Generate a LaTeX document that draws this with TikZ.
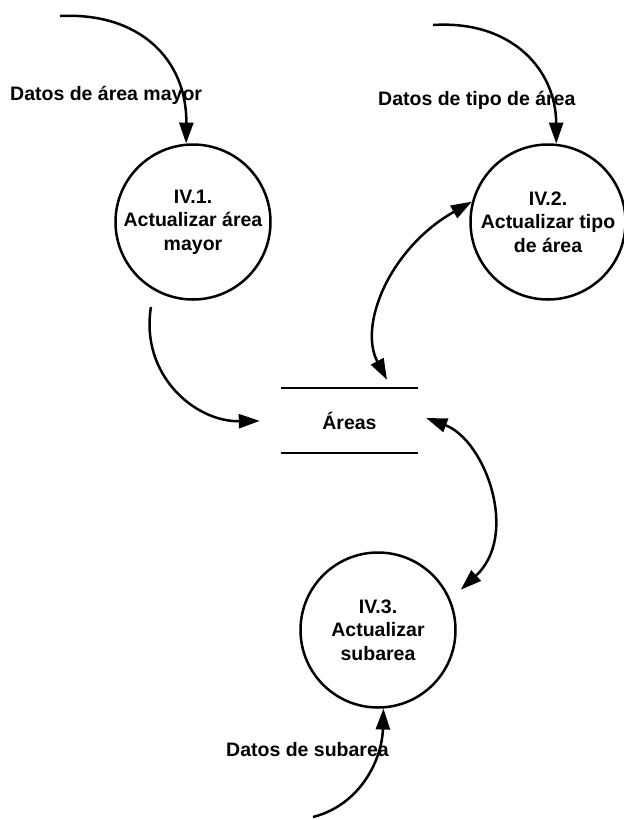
\documentclass[tikz,border=0pt]{standalone}
\usepackage{fontspec}
\setmainfont{Liberation Sans}
\usetikzlibrary{arrows.meta}
\begin{document}
\begin{tikzpicture}[x=1pt,y=-1pt,
  every node/.style={font=\fontsize{19.5}{23.5}\selectfont\bfseries},
  process/.style={circle,draw,line width=2.5pt,minimum size=155pt,inner sep=0pt,align=center},
  store/.style={rectangle,minimum width=137pt,minimum height=65pt,inner sep=0pt},
  flow/.style={line width=2.5pt,-{Triangle[length=21pt,width=14pt]}},
  biflow/.style={line width=2.5pt,{Triangle[length=21pt,width=14pt]}-{Triangle[length=21pt,width=14pt]}},
  label/.style={inner sep=0pt,anchor=west}]
\useasboundingbox (0,0) rectangle (624,820);

% processes
\node[process] (p1) at (193,222) {IV.1.\\Actualizar área\\mayor};
\node[process] (p2) at (548,222) {IV.2.\\Actualizar tipo\\de área};
\node[process] (p3) at (378,630) {IV.3.\\Actualizar\\subarea};

% data store
\node[store] (st) at (349.5,420.5) {Áreas};
\draw[line width=2.5pt] (st.north west) -- (st.north east);
\draw[line width=2.5pt] (st.south west) -- (st.south east);

% external sources
\coordinate (s1) at (60,16);
\coordinate (s2) at (433,25);
\coordinate (s3) at (313,817);

% labels
\node[label] (l1) at (10,95) {Datos de área mayor};
\node[label] (l2) at (378,100) {Datos de tipo de área};
\node[label] (l3) at (226,750) {Datos de subarea};

% flows
\draw[flow] (s1) .. controls (140,12) and (187,60) .. (p1.95);
\draw[flow] (s2) .. controls (512,20) and (556,70) .. (p2.84);
\draw[flow] (s3) .. controls (360,805) and (382,760) .. (p3.274);
\draw[flow,shorten <=17pt,shorten >=21pt] (p1.240.5) .. controls (140,375) and (195,422) .. (st.west);
\draw[biflow] (p2.165) .. controls (390,248) and (358,325) .. ([xshift=37.5pt,yshift=8pt]st.north);
\draw[biflow,shorten >=14pt] ([xshift=8pt,yshift=2.5pt]st.east) .. controls (485,440) and (520,535) .. (p3.23.8);
\end{tikzpicture}
\end{document}
